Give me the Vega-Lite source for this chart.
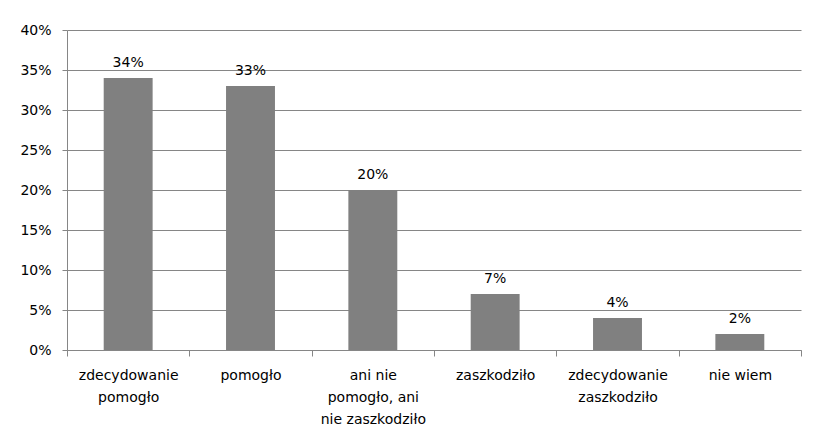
{
  "$schema": "https://vega.github.io/schema/vega-lite/v6.json",
  "width": 734,
  "height": 320,
  "autosize": {"type": "none"},
  "padding": {"left": 67, "top": 30, "right": 14, "bottom": 86},
  "background": "white",
  "data": {
    "values": [
      {"kategoria": "zdecydowanie|pomogło", "wartosc": 0.34},
      {"kategoria": "pomogło", "wartosc": 0.33},
      {"kategoria": "ani nie|pomogło, ani|nie zaszkodziło", "wartosc": 0.20},
      {"kategoria": "zaszkodziło", "wartosc": 0.07},
      {"kategoria": "zdecydowanie|zaszkodziło", "wartosc": 0.04},
      {"kategoria": "nie wiem", "wartosc": 0.02}
    ]
  },
  "encoding": {
    "x": {
      "field": "kategoria",
      "type": "nominal",
      "sort": null,
      "scale": {"paddingInner": 0, "paddingOuter": 0},
      "axis": {
        "title": null,
        "labelAngle": 0,
        "labelExpr": "split(datum.label, '|')",
        "labelFont": "DejaVu Sans",
        "labelFontSize": 14,
        "labelColor": "#000000",
        "labelPadding": 12,
        "labelLineHeight": 22,
        "labelBaseline": "top",
        "tickBand": "extent",
        "tickSize": 6,
        "tickColor": "#868686",
        "domainColor": "#868686",
        "grid": false
      }
    },
    "y": {
      "field": "wartosc",
      "type": "quantitative",
      "scale": {"domain": [0, 0.4], "nice": false},
      "axis": {
        "title": null,
        "format": ".0%",
        "values": [0, 0.05, 0.1, 0.15, 0.2, 0.25, 0.3, 0.35, 0.4],
        "labelFont": "DejaVu Sans",
        "labelFontSize": 14,
        "labelColor": "#000000",
        "labelPadding": 11,
        "tickSize": 5,
        "tickColor": "#868686",
        "domainColor": "#868686",
        "gridColor": "#868686",
        "gridOpacity": 1
      }
    }
  },
  "layer": [
    {"mark": {"type": "bar", "color": "#808080", "width": {"band": 0.4}}},
    {
      "mark": {"type": "text", "baseline": "bottom", "dy": -8, "font": "DejaVu Sans", "fontSize": 14, "color": "#000000"},
      "encoding": {"text": {"field": "wartosc", "type": "quantitative", "format": ".0%"}}
    }
  ],
  "config": {"view": {"stroke": null}}
}
